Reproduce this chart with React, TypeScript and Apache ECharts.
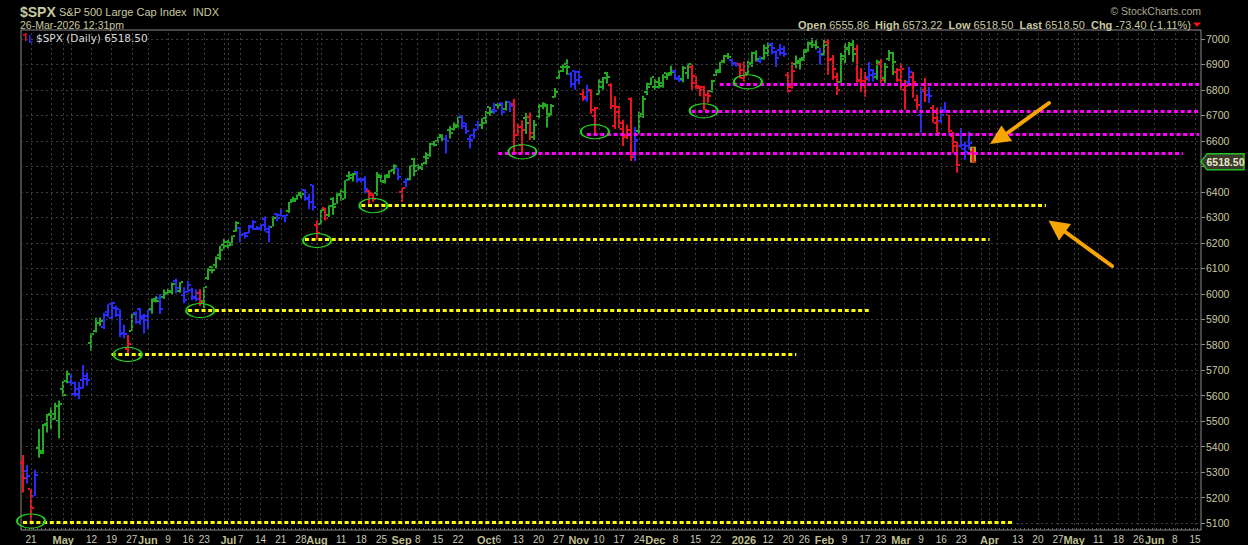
import React, { useEffect, useRef } from "react";
import * as echarts from "echarts";

// ---------- calendar ----------
const HOLIDAYS = [
  "2025-04-18", "2025-05-26", "2025-06-19", "2025-07-04", "2025-09-01", "2025-11-27",
  "2025-12-25", "2026-01-01", "2026-01-19", "2026-02-16", "2026-04-03", "2026-05-25", "2026-06-19",
];
const FIRST_DAY = [2025, 3, 16];
const CATEGORY_COUNT = 293;

// ---------- OHLC bars, [open, high, low, close] per trading day ----------
const bars2025Apr = [
  [5335, 5367, 5220, 5276], [5305, 5328, 5255, 5283], [5232, 5233, 5101, 5158], [5207, 5309, 5207, 5287],
  [5395, 5469, 5356, 5376], [5381, 5489, 5371, 5485], [5489, 5528, 5455, 5525], [5529, 5554, 5468, 5529],
  [5508, 5572, 5506, 5561], [5499, 5581, 5433, 5569],
];
const bars2025May = [
  [5625, 5658, 5597, 5604], [5656, 5700, 5649, 5687], [5655, 5683, 5639, 5650], [5606, 5656, 5597, 5607],
  [5626, 5654, 5586, 5631], [5662, 5720, 5628, 5664], [5679, 5691, 5640, 5660], [5808, 5845, 5776, 5844],
  [5855, 5906, 5848, 5886], [5887, 5907, 5873, 5892], [5870, 5925, 5862, 5917], [5929, 5959, 5908, 5958],
  [5903, 5969, 5895, 5964], [5944, 5953, 5909, 5940], [5915, 5939, 5830, 5845], [5842, 5878, 5825, 5842],
  [5782, 5838, 5768, 5803], [5855, 5922, 5854, 5922], [5926, 5931, 5882, 5889], [5939, 5944, 5878, 5912],
  [5903, 5922, 5844, 5912],
];
const bars2025Jun = [
  [5897, 5937, 5861, 5936], [5939, 5981, 5922, 5970], [5979, 5990, 5967, 5971], [5985, 5999, 5921, 5939],
  [5987, 6017, 5979, 6000], [6004, 6021, 5994, 6006], [6010, 6044, 5999, 6038], [6049, 6059, 6002, 6022],
  [6010, 6046, 6004, 6045], [5997, 6026, 5963, 5977], [6005, 6051, 6005, 6033], [6013, 6024, 5975, 5982],
  [5986, 6018, 5971, 5981], [6004, 6018, 5952, 5967], [5970, 6026, 5944, 6025], [6061, 6101, 6054, 6092],
  [6104, 6108, 6081, 6092], [6113, 6146, 6099, 6141], [6151, 6188, 6132, 6173], [6193, 6216, 6175, 6205],
];
const bars2025Jul = [
  [6187, 6211, 6178, 6198], [6192, 6228, 6189, 6227], [6247, 6285, 6243, 6279], [6259, 6262, 6202, 6230],
  [6236, 6242, 6217, 6226], [6240, 6270, 6237, 6263], [6265, 6290, 6251, 6280], [6255, 6266, 6250, 6260],
  [6255, 6273, 6247, 6269], [6295, 6303, 6244, 6244], [6253, 6268, 6202, 6264], [6264, 6304, 6264, 6297],
  [6313, 6316, 6285, 6297], [6310, 6336, 6303, 6306], [6307, 6310, 6281, 6309], [6326, 6360, 6317, 6359],
  [6368, 6381, 6360, 6363], [6371, 6390, 6369, 6389], [6397, 6401, 6375, 6390], [6409, 6410, 6365, 6371],
  [6375, 6394, 6332, 6362], [6428, 6428, 6327, 6339],
];
const bars2025Aug = [
  [6271, 6288, 6212, 6238], [6272, 6330, 6272, 6330], [6336, 6338, 6288, 6299], [6308, 6347, 6301, 6345],
  [6372, 6379, 6309, 6340], [6353, 6395, 6353, 6389], [6390, 6409, 6365, 6373], [6398, 6446, 6373, 6446],
  [6461, 6481, 6445, 6466], [6453, 6474, 6441, 6469], [6478, 6481, 6436, 6450], [6445, 6456, 6437, 6449],
  [6446, 6461, 6394, 6411], [6404, 6407, 6343, 6396], [6386, 6394, 6361, 6370], [6394, 6478, 6385, 6467],
  [6457, 6466, 6438, 6439], [6441, 6468, 6433, 6465], [6458, 6484, 6454, 6481], [6487, 6508, 6469, 6502],
  [6493, 6493, 6446, 6460],
];
const bars2025Sep = [
  [6401, 6417, 6360, 6416], [6437, 6453, 6418, 6448], [6451, 6503, 6446, 6502], [6530, 6533, 6461, 6482],
  [6502, 6508, 6484, 6495], [6498, 6513, 6486, 6512], [6538, 6555, 6507, 6532], [6543, 6593, 6538, 6588],
  [6587, 6600, 6579, 6584], [6600, 6616, 6593, 6615], [6625, 6626, 6601, 6607], [6609, 6624, 6551, 6600],
  [6642, 6657, 6609, 6632], [6645, 6672, 6641, 6664], [6653, 6695, 6653, 6693], [6699, 6702, 6647, 6657],
  [6669, 6670, 6627, 6638], [6609, 6625, 6570, 6605], [6625, 6650, 6608, 6644], [6661, 6679, 6645, 6661],
  [6661, 6689, 6647, 6688],
];
const bars2025Oct = [
  [6670, 6718, 6668, 6711], [6732, 6733, 6699, 6715], [6722, 6750, 6706, 6716], [6740, 6749, 6725, 6740],
  [6748, 6752, 6700, 6714], [6727, 6757, 6719, 6753], [6752, 6755, 6713, 6735], [6744, 6765, 6551, 6553],
  [6622, 6668, 6620, 6654], [6583, 6680, 6551, 6644], [6691, 6709, 6627, 6671], [6693, 6711, 6604, 6630],
  [6614, 6682, 6604, 6664], [6696, 6745, 6689, 6735], [6736, 6752, 6724, 6736], [6744, 6745, 6653, 6699],
  [6704, 6745, 6699, 6738], [6773, 6808, 6770, 6792], [6847, 6876, 6843, 6875], [6891, 6900, 6870, 6891],
  [6902, 6920, 6860, 6890], [6861, 6869, 6810, 6822], [6875, 6876, 6801, 6840],
];
const bars2025Nov = [
  [6872, 6876, 6822, 6852], [6784, 6803, 6758, 6772], [6765, 6820, 6754, 6796], [6798, 6803, 6707, 6720],
  [6699, 6734, 6631, 6728], [6786, 6842, 6780, 6832], [6812, 6851, 6801, 6846], [6868, 6870, 6825, 6851],
  [6818, 6826, 6725, 6737], [6660, 6775, 6647, 6734], [6712, 6738, 6650, 6672], [6648, 6683, 6580, 6617],
  [6625, 6663, 6606, 6642], [6766, 6770, 6521, 6538], [6545, 6655, 6521, 6603], [6637, 6715, 6626, 6705],
  [6697, 6777, 6690, 6766], [6793, 6828, 6780, 6813], [6822, 6850, 6818, 6849],
];
const bars2025Dec = [
  [6812, 6843, 6800, 6812], [6831, 6851, 6806, 6829], [6815, 6862, 6809, 6850], [6866, 6867, 6840, 6857],
  [6866, 6895, 6857, 6870], [6874, 6878, 6839, 6846], [6842, 6859, 6831, 6840], [6841, 6894, 6830, 6887],
  [6867, 6904, 6843, 6901], [6889, 6902, 6801, 6827], [6855, 6856, 6803, 6816], [6809, 6817, 6775, 6800],
  [6812, 6816, 6721, 6721], [6780, 6800, 6750, 6775], [6796, 6840, 6790, 6835], [6860, 6880, 6855, 6878],
  [6872, 6910, 6866, 6910], [6913, 6937, 6905, 6932], [6935, 6945, 6920, 6930], [6916, 6921, 6893, 6905],
  [6900, 6910, 6892, 6896], [6903, 6905, 6845, 6845],
];
const bars2026Jan = [
  [6880, 6912, 6832, 6858], [6868, 6915, 6860, 6902], [6905, 6950, 6890, 6945], [6945, 6955, 6912, 6921],
  [6915, 6932, 6905, 6921], [6925, 6978, 6918, 6966], [6945, 6986, 6932, 6977], [6980, 6986, 6940, 6963],
  [6950, 6955, 6890, 6926], [6955, 6980, 6935, 6944], [6960, 6972, 6930, 6940], [6860, 6870, 6790, 6797],
  [6810, 6910, 6805, 6876], [6900, 6935, 6885, 6913], [6905, 6925, 6880, 6916], [6925, 6960, 6915, 6950],
  [6955, 6990, 6950, 6979], [6985, 7004, 6965, 6978], [6975, 6995, 6960, 6969], [6950, 6965, 6900, 6939],
];
const bars2026Feb = [
  [6940, 6996, 6935, 6976], [6990, 7000, 6860, 6917], [6920, 6937, 6840, 6883], [6850, 6867, 6780, 6798],
  [6830, 6945, 6828, 6932], [6920, 6984, 6906, 6965], [6960, 6988, 6937, 6980], [6975, 6996, 6910, 6940],
  [6960, 6977, 6828, 6835], [6840, 6886, 6792, 6836], [6820, 6870, 6773, 6843], [6850, 6910, 6832, 6880],
  [6860, 6882, 6832, 6862], [6850, 6918, 6840, 6910], [6900, 6922, 6828, 6838], [6845, 6906, 6828, 6890],
  [6920, 6957, 6914, 6946], [6945, 6949, 6859, 6908], [6870, 6886, 6832, 6879],
];
const bars2026Mar = [
  [6840, 6906, 6800, 6881], [6800, 6839, 6722, 6816], [6830, 6890, 6820, 6870], [6850, 6871, 6769, 6830],
  [6760, 6781, 6722, 6740], [6700, 6812, 6632, 6795], [6800, 6847, 6753, 6781], [6780, 6812, 6750, 6775],
  [6730, 6741, 6671, 6672], [6690, 6730, 6632, 6632], [6680, 6734, 6671, 6700], [6720, 6753, 6710, 6716],
  [6700, 6702, 6632, 6640], [6620, 6636, 6553, 6595], [6580, 6597, 6475, 6506], [6580, 6651, 6573, 6582],
  [6570, 6597, 6526, 6556], [6580, 6636, 6565, 6591.9], [6555.86, 6573.22, 6518.5, 6518.5],
];

// closes before the first bar, used only to seed the impulse (EMA / MACD) colouring
const WARMUP_CLOSES = [
  5994.57, 6037.88, 6061.48, 6083.57, 6025.99, 6066.44, 6068.5, 6051.97, 6115.07, 6114.63, 6129.58,
  6144.15, 6117.52, 6013.13, 5983.25, 5955.25, 5956.06, 5861.57, 5954.5, 5849.72, 5778.15, 5842.63,
  5738.52, 5770.2, 5614.56, 5572.07, 5599.3, 5521.52, 5638.94, 5675.12, 5614.66, 5675.29, 5662.89,
  5667.56, 5767.57, 5776.65, 5712.2, 5693.31, 5580.94, 5611.85, 5633.07, 5670.97, 5396.52, 5074.08,
  5062.25, 4982.77, 5456.9, 5268.05, 5363.36, 5405.97, 5396.63,
];

// ---------- axis labels ----------
const TICK_DATES = [
  "2025-04-21", "2025-05-01", "2025-05-12", "2025-05-19", "2025-05-27", "2025-06-02", "2025-06-09",
  "2025-06-16", "2025-06-23", "2025-07-01", "2025-07-07", "2025-07-14", "2025-07-21", "2025-07-28",
  "2025-08-01", "2025-08-11", "2025-08-18", "2025-08-25", "2025-09-02", "2025-09-08", "2025-09-15",
  "2025-09-22", "2025-10-01", "2025-10-06", "2025-10-13", "2025-10-20", "2025-10-27", "2025-11-03",
  "2025-11-10", "2025-11-17", "2025-11-24", "2025-12-01", "2025-12-08", "2025-12-15", "2025-12-22",
  "2026-01-02", "2026-01-12", "2026-01-20", "2026-01-26", "2026-02-02", "2026-02-09", "2026-02-17",
  "2026-02-23", "2026-03-02", "2026-03-09", "2026-03-16", "2026-03-23", "2026-04-01", "2026-04-13",
  "2026-04-20", "2026-04-27", "2026-05-01", "2026-05-11", "2026-05-18", "2026-05-26", "2026-06-01",
  "2026-06-08", "2026-06-15",
];
const TICK_TEXTS = [
  "21", "May", "12", "19", "27", "Jun", "9", "16", "23", "Jul", "7", "14", "21", "28", "Aug", "11", "18",
  "25", "Sep", "8", "15", "22", "Oct", "6", "13", "20", "27", "Nov", "10", "17", "24", "Dec", "8", "15",
  "22", "2026", "12", "20", "26", "Feb", "9", "17", "23", "Mar", "9", "16", "23", "Apr", "13", "20", "27",
  "May", "11", "18", "26", "Jun", "8", "15",
];
const Y_MIN = 5072.8;
const Y_MAX = 7035.25;
const Y_TICK_START = 5100;
const Y_TICK_END = 7000;
const Y_TICK_STEP = 100;
const Y_LABEL_HIDDEN = [6500]; // covered by the last-price tag

// ---------- annotations ----------
const MAGENTA_LEVELS = [6824, 6718, 6628, 6553];
const MAGENTA_FROM = ["2025-12-23", "2025-12-12", "2025-11-05", "2025-10-06"];
const MAGENTA_TO = ["2026-06-16", "2026-06-16", "2026-06-16", "2026-06-10"];
const YELLOW_LEVELS = [6346, 6213, 5934, 5762, 5104];
const YELLOW_FROM = ["2025-08-18", "2025-07-29", "2025-06-16", "2025-05-19", "2025-04-16"];
const YELLOW_TO = ["2026-04-22", "2026-04-01", "2026-02-18", "2026-01-22", "2026-04-10"];
const CIRCLE_DATES = [
  "2025-04-21", "2025-05-23", "2025-06-20", "2025-08-01", "2025-08-21", "2025-10-14", "2025-11-07",
  "2025-12-17", "2026-01-05",
];
const CIRCLE_VALUES = [5108, 5762, 5934, 6209, 6346, 6557, 6636, 6718, 6832];

const LAST = { open: 6555.86, high: 6573.22, low: 6518.5, last: 6518.5, chg: -73.4, pct: -1.11 };

// ---------- derived ----------
function buildDates(): string[] {
  const out: string[] = [];
  const d = new Date(Date.UTC(FIRST_DAY[0], FIRST_DAY[1], FIRST_DAY[2]));
  while (out.length < CATEGORY_COUNT) {
    const wd = d.getUTCDay();
    const s = d.toISOString().slice(0, 10);
    if (wd !== 0 && wd !== 6 && HOLIDAYS.indexOf(s) < 0) out.push(s);
    d.setUTCDate(d.getUTCDate() + 1);
  }
  return out;
}
const dates = buildDates();
const bars = [
  ...bars2025Apr, ...bars2025May, ...bars2025Jun, ...bars2025Jul, ...bars2025Aug, ...bars2025Sep,
  ...bars2025Oct, ...bars2025Nov, ...bars2025Dec, ...bars2026Jan, ...bars2026Feb, ...bars2026Mar,
];

function ema(arr: number[], n: number): number[] {
  const k = 2 / (n + 1);
  const out: number[] = [];
  let e = arr[0];
  arr.forEach((v, i) => {
    e = i === 0 ? v : v * k + e * (1 - k);
    out.push(e);
  });
  return out;
}
const GREEN = "#22aa22";
const RED = "#ee1122";
const BLUE = "#2a2aff";
function impulseColors(): string[] {
  const closes = [...WARMUP_CLOSES, ...bars.map((b) => b[3])];
  const e13 = ema(closes, 13);
  const e12 = ema(closes, 12);
  const e26 = ema(closes, 26);
  const macd = e12.map((v, i) => v - e26[i]);
  const sig = ema(macd, 9);
  const hist = macd.map((v, i) => v - sig[i]);
  const W = WARMUP_CLOSES.length;
  return bars.map((_, i) => {
    const j = W + i;
    const up = e13[j] > e13[j - 1];
    const hup = hist[j] > hist[j - 1];
    if (up && hup) return GREEN;
    if (!up && !hup) return RED;
    return BLUE;
  });
}
const barColors = impulseColors();

const labelMap = new Map<string, string>();
TICK_DATES.forEach((d, i) => labelMap.set(d, TICK_TEXTS[i]));

const gridDates: string[] = [];
for (let k = 1; k < dates.length; k++) {
  const a = new Date(dates[k - 1] + "T00:00:00Z");
  const b = new Date(dates[k] + "T00:00:00Z");
  const newWeek = b.getUTCDay() < a.getUTCDay() || (b.getTime() - a.getTime()) / 86400000 > 6;
  const newMonth = a.getUTCMonth() !== b.getUTCMonth();
  if (newWeek || newMonth) gridDates.push(dates[k]);
}
const yTicks: number[] = [];
for (let v = Y_TICK_START; v <= Y_TICK_END; v += Y_TICK_STEP) yTicks.push(v);
const yLabels = yTicks.filter((v) => Y_LABEL_HIDDEN.indexOf(v) < 0);

const KHAKI = "#c8c8a0";
const SANS = "'Liberation Sans', Arial, sans-serif";
const VERD = "'DejaVu Sans', Verdana, sans-serif";

function buildOption(): any {
  const levelLines: any[] = [];
  MAGENTA_LEVELS.forEach((v, i) =>
    levelLines.push([
      { coord: [MAGENTA_FROM[i], v], lineStyle: { color: "#ff00ff" } },
      { coord: [MAGENTA_TO[i], v] },
    ])
  );
  YELLOW_LEVELS.forEach((v, i) =>
    levelLines.push([
      { coord: [YELLOW_FROM[i], v], lineStyle: { color: "#ffff00" } },
      { coord: [YELLOW_TO[i], v] },
    ])
  );
  return {
    animation: false,
    backgroundColor: "#000000",
    grid: {
      left: 21, top: 30, width: 1180, height: 501, show: true,
      borderColor: "#8a8a8a", borderWidth: 1, backgroundColor: "transparent",
    },
    xAxis: {
      type: "category",
      data: dates,
      boundaryGap: true,
      axisLine: { show: false },
      axisTick: { show: true, inside: true, length: 2, interval: 0, lineStyle: { color: "#666" } },
      splitLine: { show: false },
      axisLabel: {
        interval: (_i: number, v: string) => labelMap.has(v),
        margin: 4,
        color: "#c8c8b4",
        fontFamily: SANS,
        fontSize: 10,
        formatter: (v: string) => {
          const t = labelMap.get(v);
          if (!t) return "";
          return /^\d{1,2}$/.test(t) ? t : `{b|${t}}`;
        },
        rich: { b: { fontWeight: "bold", fontSize: 11, color: "#bebe90", fontFamily: SANS } },
      },
    },
    yAxis: {
      type: "value",
      position: "right",
      min: Y_MIN,
      max: Y_MAX,
      axisLine: { show: false },
      axisTick: { show: true, length: 4, customValues: yTicks, lineStyle: { color: "#8a8a8a" } },
      axisLabel: {
        customValues: yLabels, margin: 5, color: KHAKI, fontSize: 10.5, fontFamily: SANS,
        formatter: (v: number) => String(Math.round(v)),
      },
      splitLine: { show: false },
    },
    series: [
      {
        type: "line",
        data: [],
        z: 1,
        silent: true,
        markLine: {
          silent: true,
          symbol: "none",
          animation: false,
          label: { show: false },
          lineStyle: { color: "#3c3c3c", type: [2, 3], width: 1 },
          data: [...yTicks.map((v) => ({ yAxis: v })), ...gridDates.map((d) => ({ xAxis: d }))],
        },
      },
      {
        type: "custom",
        z: 2,
        silent: true,
        data: bars.map((b, i) => [i, b[0], b[1], b[2], b[3]]),
        encode: { x: 0, y: [1, 2, 3, 4] },
        renderItem: (params: any, api: any) => {
          const i = api.value(0);
          const hi = api.coord([i, api.value(2)]);
          const lo = api.coord([i, api.value(3)]);
          const op = api.coord([i, api.value(1)]);
          const cl = api.coord([i, api.value(4)]);
          const x = Math.round(hi[0]);
          const color = barColors[params.dataIndex];
          const children: any[] = [];
          if (params.dataIndex === bars.length - 1) {
            children.push({
              type: "rect",
              shape: { x: x - 3, y: hi[1] - 1, width: 6, height: lo[1] - hi[1] + 2 },
              style: { fill: "#b3a21c" },
            });
          }
          children.push({
            type: "rect",
            shape: { x: x - 1, y: hi[1], width: 2, height: Math.max(1, lo[1] - hi[1]) },
            style: { fill: color },
          });
          children.push({
            type: "rect",
            shape: { x: x - 3, y: Math.round(op[1]) - 1, width: 2, height: 2 },
            style: { fill: color },
          });
          children.push({
            type: "rect",
            shape: { x: x + 1, y: Math.round(cl[1]) - 1, width: 2, height: 2 },
            style: { fill: color },
          });
          return { type: "group", children };
        },
      },
      {
        type: "line",
        data: [],
        z: 3,
        silent: true,
        markLine: {
          silent: true,
          symbol: "none",
          animation: false,
          label: { show: false },
          lineStyle: { width: 3, type: [4, 2.7] },
          data: levelLines,
        },
        markPoint: {
          silent: true,
          animation: false,
          symbol: "circle",
          symbolSize: [28, 14],
          label: { show: false },
          itemStyle: { color: "rgba(0,0,0,0)", borderColor: "#22d422", borderWidth: 1.5 },
          data: CIRCLE_DATES.map((d, i) => ({ coord: [d, CIRCLE_VALUES[i]] })),
        },
      },
    ],
  };
}

function txt(text: string, x: number, y: number, font: string, fill: string, align = "left", extra: any = {}) {
  return {
    type: "text",
    x,
    y,
    z: 100,
    silent: true,
    style: {
      text, font, fill, align, verticalAlign: "middle", textAlign: align, textVerticalAlign: "middle", ...extra,
    },
  };
}

function buildGraphics(ty: number): any[] {
  const fmt = (v: number) => v.toFixed(2);
  const header =
    `{l|Open} {v|${fmt(LAST.open)}}  {l|High} {v|${fmt(LAST.high)}}  {l|Low} {v|${fmt(LAST.low)}}  ` +
    `{l|Last} {v|${fmt(LAST.last)}}  {l|Chg} {v|${fmt(LAST.chg)} (${fmt(LAST.pct)}%)}`;
  const orange = "#f7a500";
  return [
    txt("$SPX", 20, 12, `bold 14px ${SANS}`, KHAKI),
    txt("S&P 500 Large Cap Index  INDX", 59, 12, `11px ${SANS}`, KHAKI),
    txt("26-Mar-2026 12:31pm", 20, 25, `10.5px ${SANS}`, KHAKI),
    txt("\u00a9 StockCharts.com", 1201, 11, `10.5px ${SANS}`, "#a8a890", "right"),
    txt("", 1191, 25, `11px ${SANS}`, KHAKI, "right", {
      text: header,
      rich: {
        l: { font: `bold 11px ${SANS}`, fill: KHAKI, color: KHAKI },
        v: { font: `11px ${SANS}`, fill: KHAKI, color: KHAKI },
      },
    }),
    {
      type: "polygon", z: 100, silent: true,
      shape: { points: [[1193, 22.5], [1201, 22.5], [1197, 27]] },
      style: { fill: "#ff1010" },
    },
    { type: "rect", z: 100, silent: true, shape: { x: 25, y: 33, width: 1.5, height: 8 }, style: { fill: RED } },
    { type: "rect", z: 100, silent: true, shape: { x: 23, y: 34, width: 2, height: 1.5 }, style: { fill: RED } },
    { type: "rect", z: 100, silent: true, shape: { x: 29, y: 35, width: 1.5, height: 8 }, style: { fill: BLUE } },
    { type: "rect", z: 100, silent: true, shape: { x: 30.5, y: 41, width: 2, height: 1.5 }, style: { fill: BLUE } },
    txt("$SPX (Daily) 6518.50", 36, 37.5, `10.5px ${VERD}`, "#dcdcdc"),
    {
      type: "line", z: 100, silent: true,
      shape: { x1: 1006, y1: 134, x2: 1049, y2: 103 },
      style: { stroke: orange, lineWidth: 4, lineCap: "round" },
    },
    {
      type: "polygon", z: 100, silent: true,
      shape: { points: [[990, 144], [1001.5, 125.5], [1012, 141]] },
      style: { fill: orange },
    },
    {
      type: "line", z: 100, silent: true,
      shape: { x1: 1064, y1: 231, x2: 1112, y2: 266 },
      style: { stroke: orange, lineWidth: 4, lineCap: "round" },
    },
    {
      type: "polygon", z: 100, silent: true,
      shape: { points: [[1048.5, 220.5], [1071, 224], [1059, 240.5]] },
      style: { fill: orange },
    },
    {
      type: "polygon", z: 101, silent: true,
      shape: { points: [[1201, ty], [1207, ty - 8], [1244, ty - 8], [1244, ty + 8], [1207, ty + 8]] },
      style: { fill: "#3a3a2c", stroke: "#22c022", lineWidth: 1.5 },
    },
    { ...txt(fmt(LAST.last), 1225.5, ty + 0.5, `bold 10.5px ${SANS}`, "#e6e6c8", "center"), z: 102 },
  ];
}

export default function App() {
  const ref = useRef<HTMLDivElement>(null);
  useEffect(() => {
    const el = ref.current;
    if (!el) return;
    const chart = echarts.init(el, null, { renderer: "svg" });
    chart.setOption(buildOption());
    const ty = chart.convertToPixel({ yAxisIndex: 0 }, LAST.last) as number;
    chart.setOption({ graphic: buildGraphics(ty) });
    return () => chart.dispose();
  }, []);
  return (
    <div
      ref={ref}
      style={{ position: "fixed", left: 0, top: 0, width: 1248, height: 545, background: "#000" }}
    />
  );
}
